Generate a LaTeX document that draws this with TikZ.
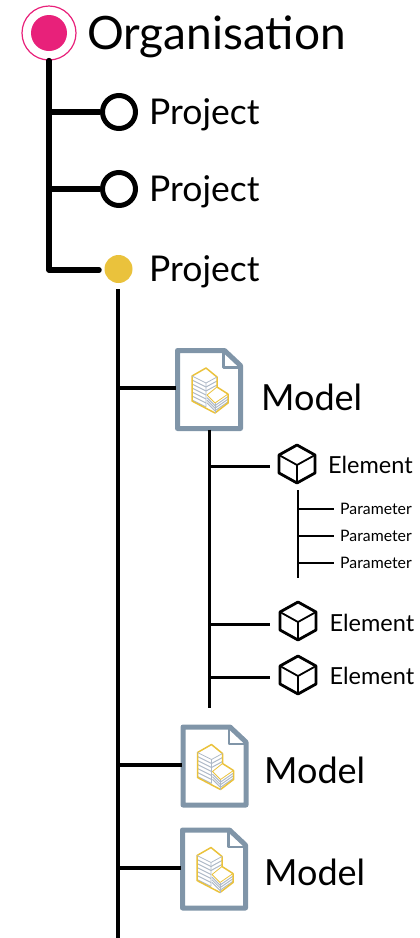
\documentclass[tikz,border=0pt]{standalone}
\usepackage{fontspec}
\setmainfont{Lato}
\definecolor{orgpink}{HTML}{E8217A}
\definecolor{projyellow}{HTML}{EAC23C}
\definecolor{docslate}{HTML}{8095A8}
\definecolor{floorgrey}{HTML}{AEB9C7}
\tikzset{
  thicktrunk/.style={line width=5.5pt,line cap=round,line join=round},
  midtrunk/.style={line width=4pt},
  subtrunk/.style={line width=3pt},
  finetrunk/.style={line width=1.8pt},
  orgtext/.style={anchor=base west,inner sep=0pt,font=\fontsize{46}{46}\selectfont},
  projtext/.style={anchor=base west,inner sep=0pt,font=\fontsize{35.5}{35.5}\selectfont},
  modeltext/.style={anchor=base west,inner sep=0pt,font=\fontsize{36}{36}\selectfont},
  elemtext/.style={anchor=base west,inner sep=0pt,font=\fontsize{23.5}{23.5}\selectfont},
  paramtext/.style={anchor=base west,inner sep=0pt,font=\fontsize{15.8}{15.8}\selectfont},
  openproj/.style={circle,draw,line width=5pt,fill=white,inner sep=0pt,minimum size=33pt},
  modelicon/.pic={
    \node[inner sep=0pt,minimum width=64pt,minimum height=80pt] (box) at (0,0) {};
    \draw[docslate,line width=5pt,line join=round] (-31,-39) -- (16,-39) -- (32,-24) -- (32,39) -- (-31,39) -- cycle;
    \draw[docslate,line width=2.5pt,line join=round] (15,-39) -- (15,-22) -- (32,-22);
    % tall block floors
    \foreach \i in {0,...,5} {
      \draw[floorgrey,line width=1pt] (-16.5,{-9.5+\i*4}) -- (-2.5,{-2.5+\i*4});
    }
    \foreach \i in {0,...,1} {
      \draw[floorgrey,line width=1pt] (-2.5,{-2.5+\i*4}) -- (8.5,{-8.5+\i*4});
    }
    % low block floors
    \foreach \i in {1,...,3} {
      \draw[floorgrey,line width=1pt] (-1.5,{5.5+\i*2.6}) -- (6.5,{13.5+\i*2.6}) -- (19.5,{4.5+\i*2.6});
    }
    \draw[projyellow,line width=1.5pt,line join=round] (-16.5,-13.5) -- (-2.5,-21.5) -- (8.5,-12.5) -- (8.5,-2.5) -- (19.5,4.5) -- (19.5,13.5) -- (6.5,23.5) -- (-16.5,11.5) -- cycle;
    \draw[floorgrey,line width=.8pt] (-16.5,-13.5) -- (-2.5,-6.5) -- (8.5,-12.5) (-2.5,-6.5) -- (-2.5,17);
    \draw[projyellow,line width=.8pt,line join=round] (8.5,-2.5) -- (-1.5,5.5) -- (6.5,13.5) -- (19.5,4.5);
    \draw[floorgrey,line width=.8pt] (6.5,13.5) -- (6.5,23.5);
  },
  cubeicon/.pic={
    \node[inner sep=0pt,minimum width=38pt,minimum height=38pt] (box) at (0,0) {};
    \draw[line width=2.8pt,line join=round] (0,-19) -- (18,-9) -- (18,9) -- (0,19) -- (-18,9) -- (-18,-9) -- cycle;
    \draw[line width=1.8pt,line join=round] (-18,-9) -- (0,1) -- (18,-9) (0,1) -- (0,19);
  }
}
\begin{document}
\begin{tikzpicture}[x=1pt,y=-1pt]
  \useasboundingbox (0,0) rectangle (420,938);
  % organisation
  \node[circle,draw=orgpink,line width=1.2pt,minimum size=54pt,inner sep=0pt] (org) at (49,33) {};
  \node[circle,fill=orgpink,minimum size=36pt,inner sep=0pt] (orgdot) at (49,33) {};
  \node[orgtext] (orgname) at (87,49) {Organisation};
  % projects
  \node[openproj] (proj1) at (119,112) {};
  \node[openproj] (proj2) at (119,189) {};
  \node[circle,fill=projyellow,minimum size=28pt,inner sep=0pt] (proj3) at (118.5,269) {};
  \node[projtext] (proj1name) at (149,124) {Project};
  \node[projtext] (proj2name) at (149,201) {Project};
  \node[projtext] (proj3name) at (149,281) {Project};
  \coordinate (stem1) at (49,112);
  \coordinate (stem2) at (49,189);
  \coordinate (stem3) at (49,270);
  \coordinate (stem3end) at (99,270);
  \draw[thicktrunk] (org.south) -- (stem3) -- (stem3end);
  \draw[thicktrunk,line cap=butt] (stem1) -- (proj1.west);
  \draw[thicktrunk,line cap=butt] (stem2) -- (proj2.west);
  % models
  \pic (model1) at (208.5,389.5) {modelicon};
  \pic (model2) at (214,766) {modelicon};
  \pic (model3) at (213.5,869) {modelicon};
  \node[modeltext] (model1name) at (261,410) {Model};
  \node[modeltext] (model2name) at (264,783) {Model};
  \node[modeltext] (model3name) at (264,885) {Model};
  \coordinate (long1) at (118,388);
  \coordinate (long2) at (118,765);
  \coordinate (long3) at (118,868);
  \coordinate (longtop) at (118,289);
  \coordinate (longend) at (118,938);
  \draw[midtrunk] (longtop) -- (longend);
  \foreach \n in {1,2,3}
    \draw[midtrunk] (long\n) -- (long\n -| model\n box.west);
  % elements
  \pic (elem1) at (297,464) {cubeicon};
  \pic (elem2) at (298,621) {cubeicon};
  \pic (elem3) at (298,675) {cubeicon};
  \node[elemtext] (elem1name) at (328,473) {Element};
  \node[elemtext] (elem2name) at (329.5,631) {Element};
  \node[elemtext] (elem3name) at (329.5,684) {Element};
  \coordinate (sub1) at (209,466);
  \coordinate (sub2) at (209,624);
  \coordinate (sub3) at (209,677);
  \coordinate (subend) at (209,708);
  \draw[subtrunk] (model1box.south -| subend) -- (subend);
  \foreach \n in {1,2,3}
    \draw[subtrunk] (sub\n) -- ++(61,0);
  % parameters
  \node[paramtext] (param1) at (340,514) {Parameter};
  \node[paramtext] (param2) at (340,541) {Parameter};
  \node[paramtext] (param3) at (340,568) {Parameter};
  \coordinate (leaf1) at (298,509);
  \coordinate (leaf2) at (298,536);
  \coordinate (leaf3) at (298,563);
  \coordinate (leaftop) at (298,490);
  \coordinate (leafend) at (298,578);
  \draw[finetrunk] (leaftop) -- (leafend);
  \foreach \n in {1,2,3}
    \draw[finetrunk] (leaf\n) -- ++(36,0);
\end{tikzpicture}
\end{document}
